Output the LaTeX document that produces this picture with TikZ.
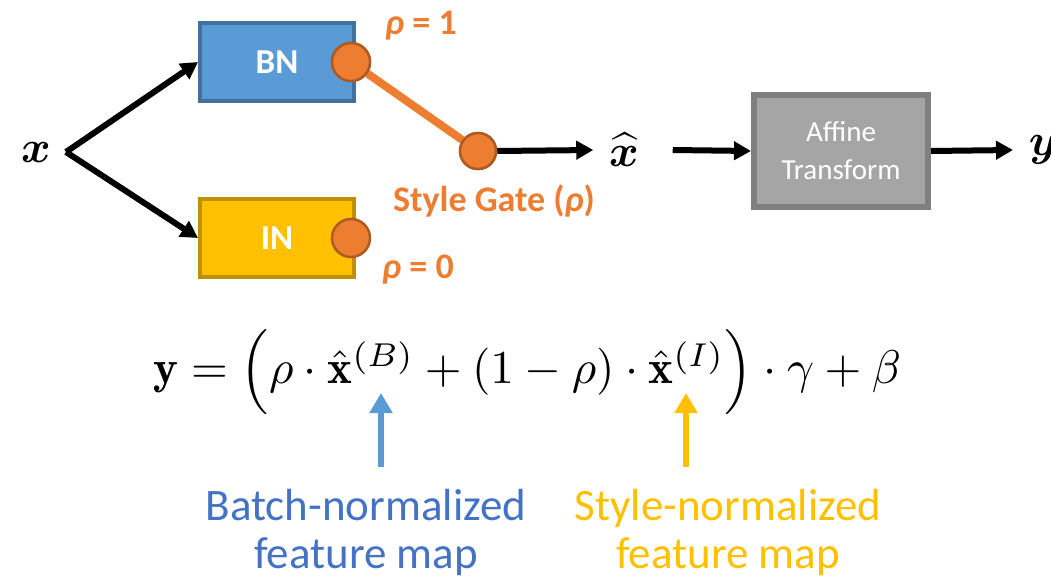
\documentclass[tikz,border=0pt]{standalone}
\usepackage{amsmath}
\usepackage{bm}
\usepackage{fontspec}
\newfontfamily\calib{Carlito}
\usetikzlibrary{calc}
\usetikzlibrary{positioning}
\usetikzlibrary{arrows.meta}

\definecolor{bnblue}{HTML}{5B9BD5}
\definecolor{bnedge}{HTML}{41719C}
\definecolor{ingold}{HTML}{FFC000}
\definecolor{inedge}{HTML}{BF9000}
\definecolor{gateorange}{HTML}{ED7D31}
\definecolor{gateedge}{HTML}{AE5A21}
\definecolor{affgray}{HTML}{A5A5A5}
\definecolor{affedge}{HTML}{7F7F7F}
\definecolor{txtblue}{HTML}{4472C4}

\tikzset{
    normbox/.style={draw, line width=4pt, minimum width=154pt, minimum height=78pt,
        text=white, font=\calib\bfseries\fontsize{35}{40}\selectfont},
    gatedot/.style={circle, draw=gateedge, fill=gateorange, line width=2.5pt,
        minimum size=38pt, inner sep=0pt},
    flow/.style={line width=6pt, -{Triangle[length=17pt,width=18pt]}},
    gatelabel/.style={text=gateorange, font=\calib\bfseries\fontsize{36}{40}\selectfont},
    notearrow/.style={line width=6pt, -{Triangle[length=20pt,width=22pt]}},
    notetext/.style={align=center, font=\calib\fontsize{45}{48}\selectfont}
}

\begin{document}
\begin{tikzpicture}[x=1pt,y=-1pt]
            \useasboundingbox (0,0) rectangle (1051,576);

            \draw node[scale=4.5] (x) at (36,152) {$\bm{x}$};
            \coordinate (split) at (66,152);

            \draw node[normbox, fill=bnblue, draw=bnedge] (BN) at (277,62) {BN};
            \draw node[normbox, fill=ingold, draw=inedge] (IN) at (277,238) {IN};

            \draw[flow] (split) -- (BN.west);
            \draw[flow] (split) -- (IN.west);

            \draw node[gatedot] (BNout) at (351,62) {};
            \draw node[gatedot] (INout) at (351,238) {};
            \draw node[gatedot, minimum size=36pt] (gate) at (478,151) {};
            \draw[gateorange, line width=8pt] (BNout) -- (gate);
            \draw node[gatedot] at (BNout) {};
            \draw node[gatedot, minimum size=36pt] at (gate) {};

            \draw node[gatelabel] (rho1) at (421,26) {\textit{ρ} = 1};
            \draw node[gatelabel] (rho0) at (418,270) {\textit{ρ} = 0};
            \draw node[gatelabel] (gatename) at (494,201) {Style Gate (\textit{ρ})};

            \draw node[scale=4.5] (xhat) at (624,150) {$\widehat{\bm{x}}$};
            \draw node[draw=affedge, fill=affgray, line width=6pt, minimum width=174pt,
                minimum height=112pt, align=center, text=white,
                font=\calib\fontsize{29}{38}\selectfont] (affine) at (841,151) {Affine\\Transform};
            \draw node[scale=4.5, anchor=west] (y) at (1013,150) {$\bm{y}$};

            \draw[flow] (gate.east) -- (xhat.west);
            \draw[flow] ($(xhat.east)+(18pt,0)$) -- (affine.west);
            \draw[flow] (affine.east) -- (y.west);

            \draw node[scale=4.72] (eq) at (527,372)
                {$\mathbf{y} = \Bigl(\rho \cdot \hat{\mathbf{x}}^{(B)} + (1-\rho) \cdot \hat{\mathbf{x}}^{(I)}\Bigr) \cdot \gamma + \beta$};

            \draw node[notetext, text=txtblue] (bnnote) at (366,532) {Batch-normalized\\feature map};
            \draw node[notetext, text=ingold] (innote) at (728,532) {Style-normalized\\feature map};

            \coordinate (bnfoot) at (381,467);
            \coordinate (xB) at (381,393);
            \coordinate (infoot) at (686,467);
            \coordinate (xI) at (686,393);
            \draw[notearrow, bnblue] (bnfoot) -- (xB);
            \draw[notearrow, ingold] (infoot) -- (xI);
\end{tikzpicture}
\end{document}
